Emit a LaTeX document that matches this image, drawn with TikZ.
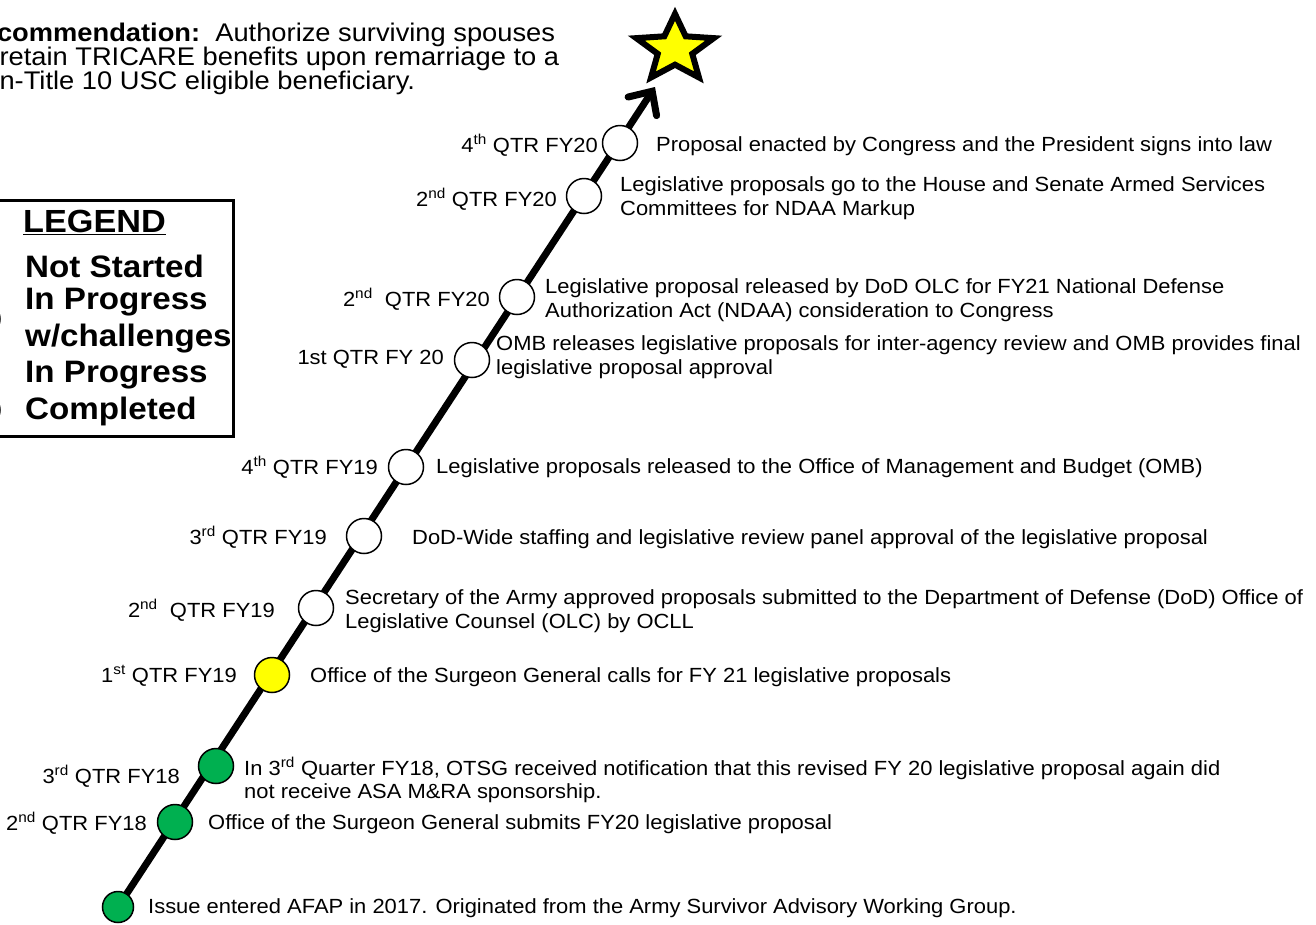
\documentclass[tikz,border=0pt]{standalone}
\usepackage{fontspec}
\setmainfont{Liberation Sans}[FakeStretch=1.07]
\usetikzlibrary{arrows.meta,backgrounds}
\definecolor{doneGreen}{RGB}{0,176,80}
\definecolor{warnYellow}{RGB}{255,255,0}

\begin{document}
\begin{tikzpicture}[x=1pt,y=-1pt,
  milestone/.style={circle, draw=black, line width=1.5pt, inner sep=0pt, minimum size=35pt},
  notstarted/.style={milestone, fill=white},
  challenged/.style={milestone, fill=warnYellow},
  completed/.style={milestone, fill=doneGreen},
  quarter/.style={anchor=east, inner sep=0pt, font=\fontsize{20.5}{23.5}\selectfont},
  event/.style={anchor=west, inner sep=0pt, align=left, font=\fontsize{20.5}{23.5}\selectfont},
  legendtext/.style={anchor=west, inner sep=0pt, font=\bfseries\fontsize{31}{36}\selectfont},
  timeline/.style={line width=7pt, line cap=round, -{Straight Barb[length=18pt,width=34pt,line cap=round]}},
  goalstar/.style={draw=black, fill=warnYellow, line width=6pt, line join=miter},
]
\useasboundingbox (0,0) rectangle (1316,924);

% recommendation
\node[anchor=west, inner sep=0pt, align=left, font=\fontsize{25.5}{24}\selectfont]
  (rec) at (-38,59) {\textbf{Recommendation:}\ \ Authorize surviving spouses\\
  \hspace*{7pt}to retain TRICARE benefits upon remarriage to a\\
  \hspace*{7pt}non-Title 10 USC eligible beneficiary.};

% legend
\draw[line width=3pt] (-10,200) rectangle (233,436);
\node[anchor=west, inner sep=0pt, font=\bfseries\fontsize{32}{36}\selectfont] (lgd) at (23,222) {\underline{LEGEND}};
\node[legendtext] (l1) at (25,266) {Not Started};
\node[legendtext] (l2) at (25,302) {In Progress};
\node[legendtext] (l3) at (25,339) {w/challenges};
\node[legendtext] (l4) at (25,375) {In Progress};
\node[legendtext] (l5) at (25,411) {Completed};
\node[challenged] (lc1) at (-17.5,319) {};
\node[completed] (lc2) at (-17.5,410) {};

% milestones
\node[completed, minimum size=31pt] (n0) at (118,907) {};
\node[completed]  (n1)  at (175,822) {};
\node[completed]  (n2)  at (216,766) {};
\node[challenged] (n3)  at (272,675) {};
\node[notstarted] (n4)  at (316,608) {};
\node[notstarted] (n5)  at (364,536) {};
\node[notstarted] (n6)  at (406,467) {};
\node[notstarted] (n7)  at (472,360) {};
\node[notstarted] (n8)  at (517,297) {};
\node[notstarted] (n9)  at (584,196) {};
\node[notstarted] (n10) at (620,143) {};
\coordinate (tip) at (655,87);

\begin{pgfonlayer}{background}
  \draw[timeline] (n0.center) -- (tip);
\end{pgfonlayer}

% goal star
\begin{scope}[shift={(675,49)}, xscale=1.1, yscale=-0.95]
  \draw[goalstar] (90:37) -- (126:16.5) -- (162:37) -- (198:16.5) -- (234:37) -- (270:16.5)
    -- (306:37) -- (342:16.5) -- (18:37) -- (54:16.5) -- cycle;
\end{scope}

% quarters
\node[quarter] (q10) at (598,145) {4\textsuperscript{th} QTR FY20};
\node[quarter] (q9)  at (557,199) {2\textsuperscript{nd} QTR FY20};
\node[quarter] (q8)  at (490,299) {2\textsuperscript{nd}\ \ QTR FY20};
\node[quarter] (q7)  at (444,359) {1st QTR FY 20};
\node[quarter] (q6)  at (378,467) {4\textsuperscript{th} QTR FY19};
\node[quarter] (q5)  at (327,537) {3\textsuperscript{rd} QTR FY19};
\node[quarter] (q4)  at (275,610) {2\textsuperscript{nd}\ \ QTR FY19};
\node[quarter] (q3)  at (237,676) {1\textsuperscript{st} QTR FY19};
\node[quarter] (q2)  at (180,776) {3\textsuperscript{rd} QTR FY18};
\node[quarter] (q1)  at (147,823) {2\textsuperscript{nd} QTR FY18};

% events
\node[event] (e10) at (656,146) {Proposal enacted by Congress and the President signs into law};
\node[event] (e9)  at (620,198) {Legislative proposals go to the House and Senate Armed Services\\Committees for NDAA Markup};
\node[event] (e8)  at (545,300) {Legislative proposal released by DoD OLC for FY21 National Defense\\Authorization Act (NDAA) consideration to Congress};
\node[event] (e7)  at (496,357) {OMB releases legislative proposals for inter-agency review and OMB provides final\\legislative proposal approval};
\node[event] (e6)  at (436,468) {Legislative proposals released to the Office of Management and Budget (OMB)};
\node[event] (e5)  at (412,539) {DoD-Wide staffing and legislative review panel approval of the legislative proposal};
\node[event] (e4)  at (345,611) {Secretary of the Army approved proposals submitted to the Department of Defense (DoD) Office of\\Legislative Counsel (OLC) by OCLL};
\node[event] (e3)  at (310,677) {Office of the Surgeon General calls for FY 21 legislative proposals};
\node[event] (e2)  at (244,780) {In 3\textsuperscript{rd} Quarter FY18, OTSG received notification that this revised FY 20 legislative proposal again did\\not receive ASA M\&RA sponsorship.};
\node[event] (e1)  at (208,824) {Office of the Surgeon General submits FY20 legislative proposal};
\node[event] (e0)  at (148,908) {Issue entered AFAP in 2017. Originated from the Army Survivor Advisory Working Group.};
\end{tikzpicture}
\end{document}
